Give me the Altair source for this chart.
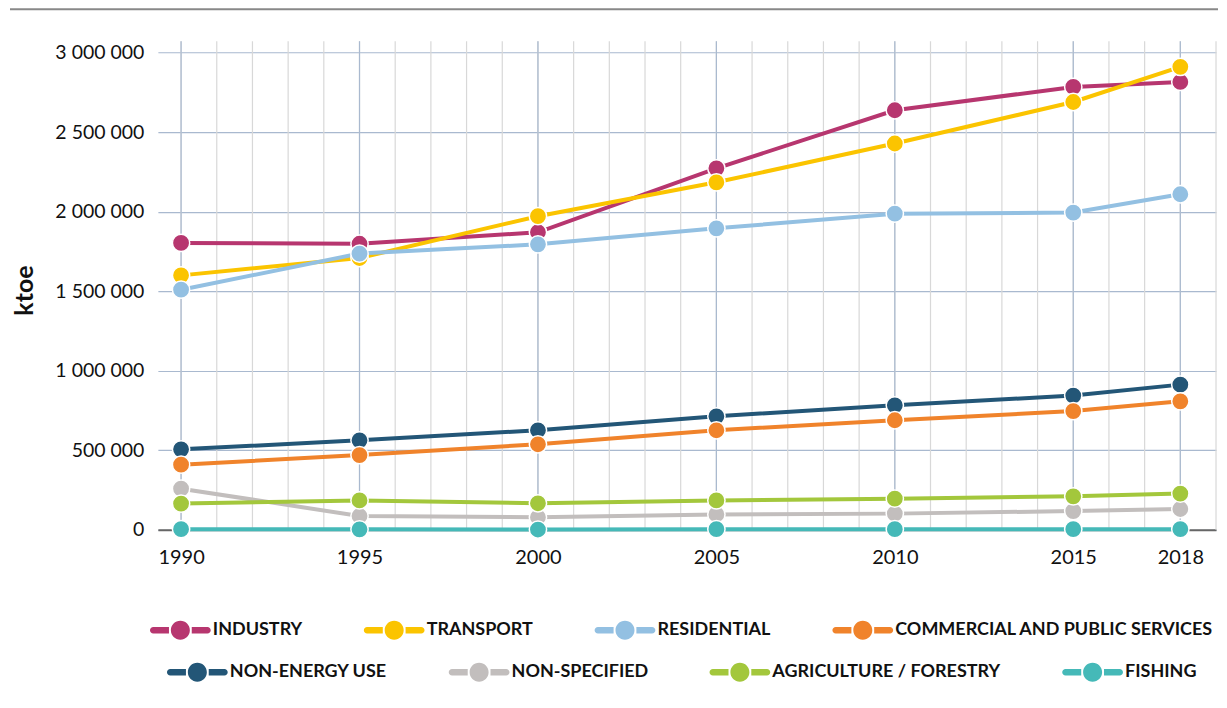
import altair as alt
import pandas as pd

years = [1990, 1995, 2000, 2005, 2010, 2015, 2018]
minor_years = list(range(1990, 2020))
y_ticks = [0, 500000, 1000000, 1500000, 2000000, 2500000, 3000000]

series_row1 = ["INDUSTRY", "TRANSPORT", "RESIDENTIAL", "COMMERCIAL AND PUBLIC SERVICES"]
series_row2 = ["NON-ENERGY USE", "NON-SPECIFIED", "AGRICULTURE / FORESTRY", "FISHING"]
colors_row1 = ["#b7366f", "#fbc400", "#93c0e2", "#f0832b"]
colors_row2 = ["#235677", "#c2bebd", "#a3c73c", "#45b9b8"]

industry = [1804000, 1799000, 1871000, 2273000, 2638000, 2785000, 2816000]
transport = [1600000, 1709000, 1972000, 2185000, 2429000, 2690000, 2911000]
residential = [1510000, 1737000, 1795000, 1896000, 1988000, 1995000, 2110000]
commercial = [410000, 470000, 538000, 626000, 689000, 747000, 808000]
non_energy = [506000, 563000, 626000, 714000, 783000, 844000, 913000]
non_specified = [259000, 87000, 79000, 97000, 102000, 118000, 131000]
agriculture = [165000, 185000, 167000, 185000, 196000, 211000, 228000]
fishing = [4000, 3000, 2000, 4000, 4000, 4000, 4000]

values_row1 = [industry, transport, residential, commercial]
values_row2 = [non_energy, non_specified, agriculture, fishing]


def long_df(names, vals):
    rows = []
    for n, v in zip(names, vals):
        for yr, val in zip(years, v):
            rows.append({"series": n, "year": yr, "value": val})
    return pd.DataFrame(rows)


df1 = long_df(series_row1, values_row1)
df2 = long_df(series_row2, values_row2)

FONT = "Lato"
TXT = "#111111"

x_scale = alt.Scale(domain=[1989.35, 2019], nice=False, zero=False)
y_scale = alt.Scale(domain=[0, 3072000], nice=False)

x_enc = alt.X(
    "year:Q",
    scale=x_scale,
    axis=alt.Axis(
        values=years, format="d", grid=False, ticks=False, title=None,
        domainColor="#666666", domainWidth=2, labelFont=FONT, labelFontSize=20,
        labelColor=TXT, labelPadding=18, labelFlush=False, labelOverlap=False,
    ),
)
y_enc = alt.Y(
    "value:Q",
    scale=y_scale,
    axis=alt.Axis(
        values=y_ticks,
        labelExpr="join(split(format(datum.value, ','), ','), ' ')",
        grid=True, gridColor="#a9b9cf", gridWidth=1.2, ticks=False, domain=False,
        labelFont=FONT, labelFontSize=19.5, labelColor=TXT, labelPadding=14,
        title="ktoe", titleFont=FONT, titleFontSize=25, titleFontWeight="bold",
        titleColor=TXT, titleX=-133, titleY=249, titleAlign="center",
        titleBaseline="middle",
    ),
)

SYMBOL = (
    "M1,0A1,1,0,1,1,-1,0A1,1,0,1,1,1,0Z"
    "M-2.85,-0.35L-1.2,-0.35L-1.2,0.35L-2.85,0.35A0.35,0.35,0,0,1,-2.85,-0.35Z"
    "M1.2,-0.35L2.85,-0.35A0.35,0.35,0,0,1,2.85,0.35L1.2,0.35Z"
)


def legend(lx, ly, pad):
    return alt.Legend(
        title=None, orient="none", legendX=lx, legendY=ly, direction="horizontal",
        symbolType=SYMBOL, symbolSize=361, symbolStrokeWidth=0, symbolOpacity=1,
        labelFont=FONT, labelFontSize=18, labelFontWeight="bold", labelColor=TXT,
        labelOffset=23, columnPadding=pad, padding=0, labelLimit=400,
    )


top_rule = alt.Chart(pd.DataFrame({"a": [0]})).mark_rule(
    color="#888888", strokeWidth=2
).encode(x=alt.value(-148), x2=alt.value(1061), y=alt.value(-32))

minor_grid = alt.Chart(pd.DataFrame({"year": minor_years})).mark_rule(
    color="#d8d8d8", strokeWidth=1.2
).encode(x=x_enc)

major_grid = alt.Chart(pd.DataFrame({"year": years})).mark_rule(
    color="#a9b9cf", strokeWidth=1.2
).encode(x=x_enc)

scale1 = alt.Scale(domain=series_row1, range=colors_row1)
scale2 = alt.Scale(domain=series_row2, range=colors_row2)

lines1 = alt.Chart(df1).mark_line(strokeWidth=4).encode(
    x=x_enc, y=y_enc, color=alt.Color("series:N", scale=scale1, legend=None)
)
lines2 = alt.Chart(df2).mark_line(strokeWidth=4).encode(
    x=x_enc, y=y_enc, color=alt.Color("series:N", scale=scale2, legend=None)
)
pts1 = alt.Chart(df1).mark_circle(size=300, opacity=1, stroke="white", strokeWidth=1.5).encode(
    x=x_enc, y=y_enc, color=alt.Color("series:N", scale=scale1, legend=legend(13, 580, 61))
)
pts2 = alt.Chart(df2).mark_circle(size=300, opacity=1, stroke="white", strokeWidth=1.5).encode(
    x=x_enc, y=y_enc, color=alt.Color("series:N", scale=scale2, legend=legend(30, 622, 61))
)

chart = (
    alt.layer(top_rule, minor_grid, major_grid, lines2, lines1, pts2, pts1)
    .resolve_scale(color="independent")
    .properties(width=1059, height=489, padding={"left": 1, "top": 0, "right": 0, "bottom": 0})
    .configure_view(stroke=None)
)

chart.save("out.html", embed_options={"renderer": "svg", "actions": False})
